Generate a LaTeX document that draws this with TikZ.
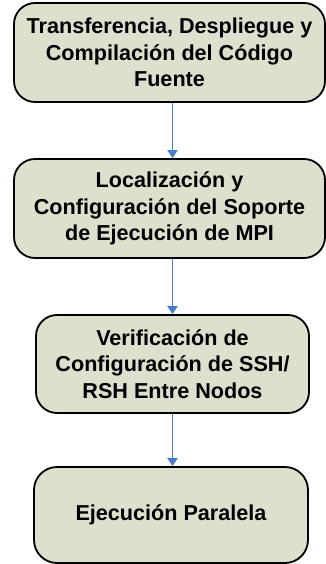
\documentclass[tikz,border=0pt]{standalone}
\usepackage{fontspec}
\setmainfont{Liberation Sans}
\usetikzlibrary{arrows.meta}
\definecolor{boxfill}{HTML}{DDE0CC}
\definecolor{arrblue}{HTML}{4A7EC4}
\begin{document}
\begin{tikzpicture}[x=1pt,y=-1pt,
  stepbox/.style={draw=black, line width=1.8pt, fill=boxfill, rounded corners=21pt,
    align=center, font=\bfseries\fontsize{21.6}{26.5}\selectfont, inner sep=0pt},
  arr/.style={draw=arrblue, line width=1.9pt, -{Triangle[width=10pt,length=8pt]}}]
\useasboundingbox (0,0) rectangle (325,564);
\node[stepbox, minimum width=311pt, minimum height=99pt] (b1) at (169.5,52.5)
  {Transferencia, Despliegue y\\Compilación del Código\\Fuente};
\node[stepbox, minimum width=311pt, minimum height=99pt] (b2) at (169.5,208.5)
  {Localización y\\Configuración del Soporte\\de Ejecución de MPI};
\node[stepbox, minimum width=273pt, minimum height=98pt] (b3) at (172.5,364)
  {Verificación de\\Configuración de SSH/\\RSH Entre Nodos};
\node[stepbox, minimum width=274pt, minimum height=96pt, rounded corners=23pt] (b4) at (171,515)
  {Ejecución Paralela};
\draw[arr] (b1.south -| b3.north) -- (b2.north -| b3.north);
\draw[arr] (b2.south -| b3.north) -- (b3.north);
\draw[arr] (b3.south) -- (b4.north -| b3.south);
\end{tikzpicture}
\end{document}
